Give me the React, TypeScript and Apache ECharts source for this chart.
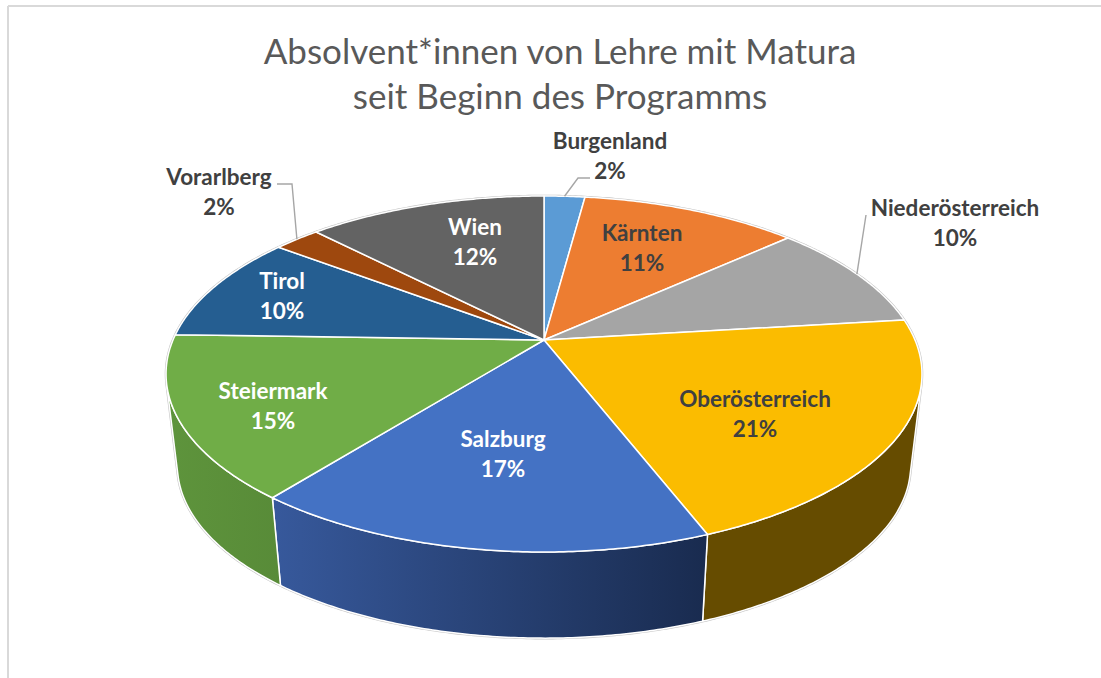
import React, { useEffect, useRef } from "react";
import * as echarts from "echarts";

const categories = ["Burgenland", "Kärnten", "Niederösterreich", "Oberösterreich", "Salzburg", "Steiermark", "Tirol", "Vorarlberg", "Wien"];
const shares = [2.1, 11.2, 9.8, 21.0, 16.6, 14.8, 9.8, 2.4, 12.3];
const titleLines = ["Absolvent*innen von Lehre mit Matura", "seit Beginn des Programms"];

const topColors = ["#5B9BD5", "#ED7D31", "#A5A5A5", "#FBBC00", "#4472C4", "#70AD47", "#255E91", "#9E480E", "#636363"];
const wallLeft = ["#37618A", "#8E4B1D", "#636363", "#664C00", "#37599C", "#5E943C", "#163857", "#5F2B08", "#3B3B3B"];
const wallRight = ["#37618A", "#8E4B1D", "#636363", "#664C00", "#192B4F", "#588B38", "#163857", "#5F2B08", "#3B3B3B"];
const labelColors = ["#404040", "#404040", "#404040", "#404040", "#FFFFFF", "#FFFFFF", "#FFFFFF", "#404040", "#FFFFFF"];
const labelCenters: [number, number][] = [[610, 155], [642, 247], [955, 222], [755, 413], [503, 453], [273, 405], [282, 295], [219, 191], [475, 241]];
const leaderElbows: ([number, number][] | null)[] = [[[578, 178], [590, 178]], null, [[866, 215]], null, null, null, null, [[292, 184], [277, 184]], null];

const CX = 544, CY = 340, A = 171.5, B = 371, K = 0.191;
const WALL_SCALE = 0.97, WALL_Y = 432.5;
// Rim angles where the cylinder's outer silhouette leaves the top ellipse.
const WALL_FROM = (104 / 180) * Math.PI, WALL_TO = (256 / 180) * Math.PI;
const TOTAL = shares.reduce((s, v) => s + v, 0);
const starts = shares.map((_, i) => shares.slice(0, i).reduce((s, v) => s + v, 0));
const angleOf = (cum: number) => (cum / TOTAL) * Math.PI * 2;

// Perspective projection of a point on the pie's rim.
const rim = (t: number): [number, number] => {
  const u = Math.sin(t), v = Math.cos(t), d = 1 + K * v;
  return [CX + (B * u) / d, CY - (A * v) / d];
};
const lowerRim = (t: number): [number, number] => {
  const [x, y] = rim(t);
  return [CX + WALL_SCALE * (x - CX), WALL_Y + WALL_SCALE * (y - CY)];
};
const arc = (f: (t: number) => [number, number], a: number, b: number) => {
  const n = Math.max(2, Math.ceil((b - a) / 0.01));
  return Array.from({ length: n + 1 }, (_, i) => f(a + ((b - a) * i) / n));
};

const wallItem = (params: any) => {
  const i = params.dataIndex;
  const a = Math.max(angleOf(starts[i]), WALL_FROM);
  const b = Math.min(angleOf(starts[i] + shares[i]), WALL_TO);
  if (b <= a) return null;
  const points = [...arc(rim, a, b), ...arc(lowerRim, a, b).reverse()];
  return {
    type: "polygon",
    shape: { points },
    style: {
      fill: new echarts.graphic.LinearGradient(0, 0, 1, 0, [
        { offset: 0, color: wallLeft[i] },
        { offset: 1, color: wallRight[i] },
      ]),
      stroke: "#FFFFFF",
      lineWidth: 1.5,
    },
  };
};
const topItem = (params: any) => {
  const i = params.dataIndex;
  const a = angleOf(starts[i]), b = angleOf(starts[i] + shares[i]);
  return {
    type: "polygon",
    shape: { points: [[CX, CY], ...arc(rim, a, b)] },
    style: { fill: topColors[i], stroke: "#FFFFFF", lineWidth: 1.5, lineJoin: "round" },
  };
};
const outlineItem = () => ({
  type: "polygon",
  shape: { points: [...arc(rim, WALL_TO, WALL_FROM + Math.PI * 2), ...arc(lowerRim, WALL_FROM, WALL_TO)] },
  style: { fill: "#FFFFFF", stroke: "#C4C4C4", lineWidth: 2.6 },
});
const labelItem = (params: any, api: any) => {
  const i = params.dataIndex;
  const pct = Math.round((api.value(0) / TOTAL) * 100);
  const children: any[] = [];
  const elbow = leaderElbows[i];
  if (elbow) {
    children.push({
      type: "polyline",
      shape: { points: [rim(angleOf(starts[i] + shares[i] / 2)), ...elbow] },
      style: { fill: "none", stroke: "#A6A6A6", lineWidth: 1.4 },
    });
  }
  children.push({
    type: "text",
    x: labelCenters[i][0],
    y: labelCenters[i][1],
    style: {
      text: `${categories[i]}\n${pct}%`,
      font: "bold 22.5px Lato",
      fill: labelColors[i],
      align: "center",
      verticalAlign: "middle",
      lineHeight: 30,
    },
  });
  return { type: "group", children };
};

export default function App() {
  const ref = useRef<HTMLDivElement>(null);
  useEffect(() => {
    const chart = echarts.init(ref.current!, undefined, { renderer: "svg" });
    const custom = (renderItem: any, z: number, data: number[] = shares) => ({
      type: "custom",
      coordinateSystem: "none",
      renderItem,
      data,
      z,
      silent: true,
      animation: false,
    });
    chart.setOption({
      animation: false,
      backgroundColor: "#FFFFFF",
      title: {
        text: titleLines.join("\n"),
        left: 555,
        top: 22,
        textAlign: "center",
        textStyle: { fontFamily: "Lato", fontWeight: "normal", fontSize: 35, lineHeight: 45, color: "#595959" },
      },
      graphic: [
        { type: "line", shape: { x1: 8, y1: 6, x2: 1101, y2: 6 }, style: { stroke: "#D9D9D9", lineWidth: 2 } },
        { type: "line", shape: { x1: 8, y1: 6, x2: 8, y2: 678 }, style: { stroke: "#D9D9D9", lineWidth: 2 } },
      ],
      series: [
        custom(outlineItem, 1, [0]),
        custom(wallItem, 2),
        custom(topItem, 3),
        custom(labelItem, 4),
      ],
    });
    return () => chart.dispose();
  }, []);
  return <div ref={ref} style={{ position: "fixed", left: 0, top: 0, width: 1101, height: 678 }} />;
}
